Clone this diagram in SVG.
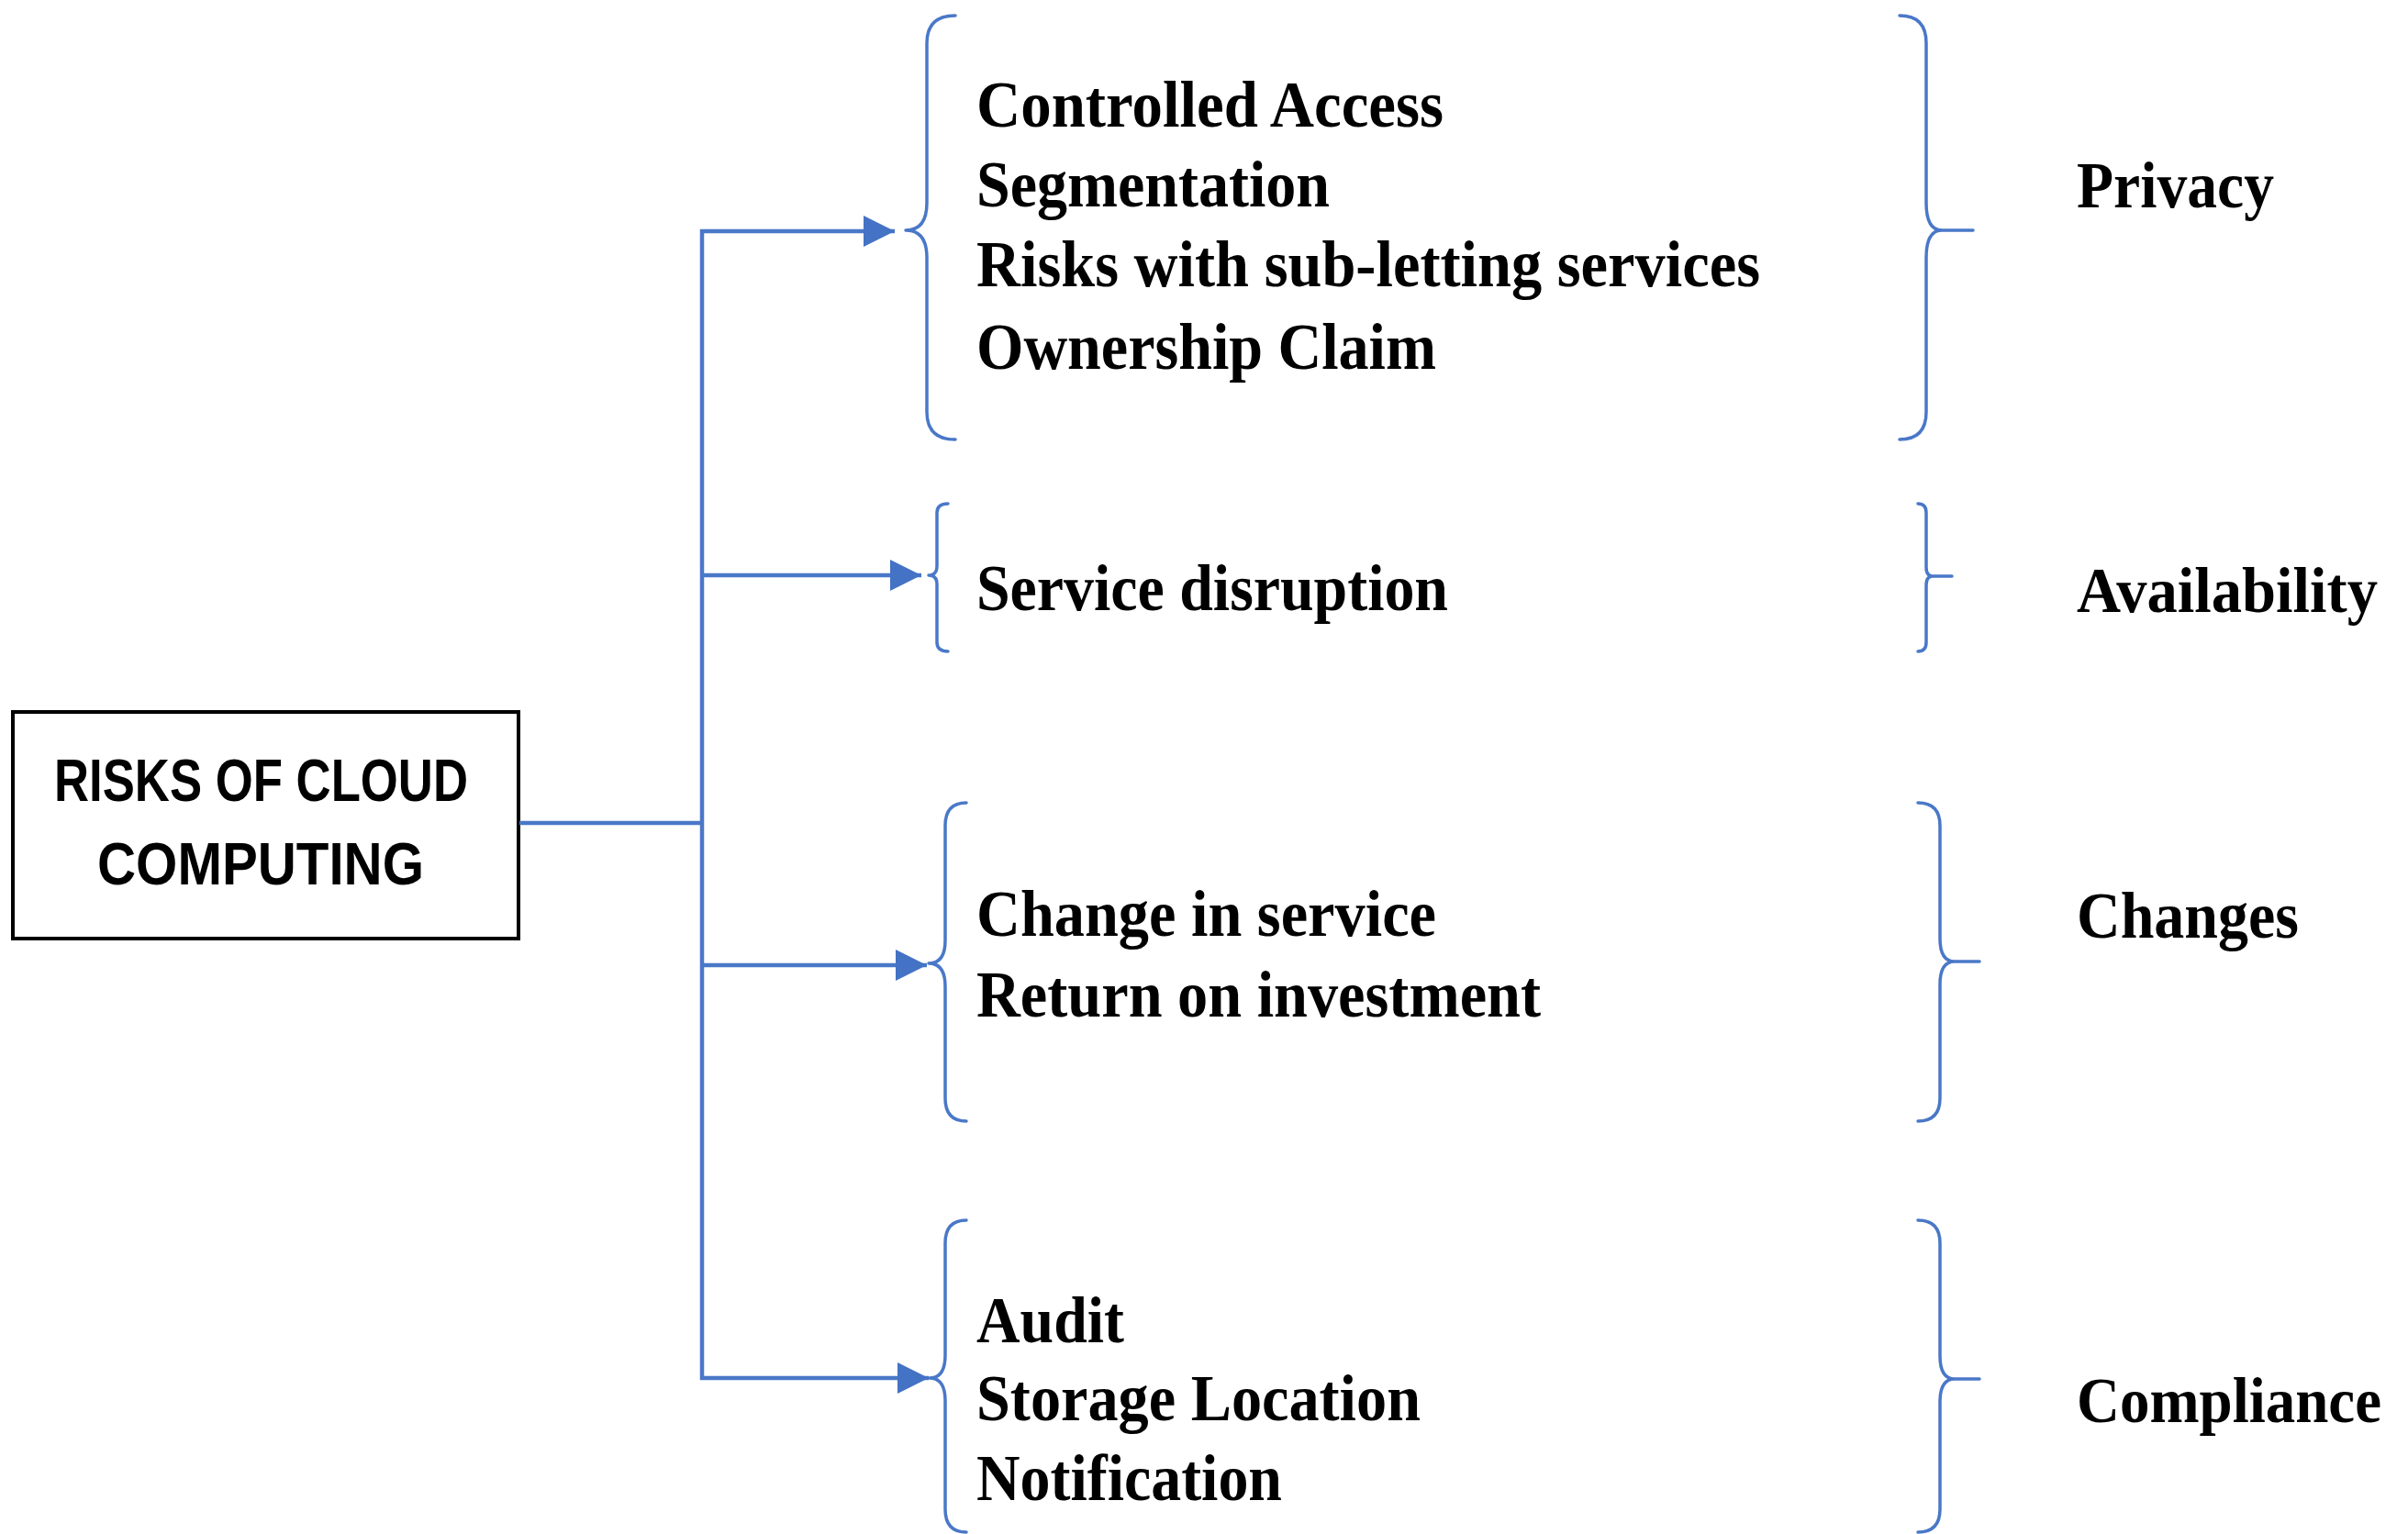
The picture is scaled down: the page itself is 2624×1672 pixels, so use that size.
<svg xmlns="http://www.w3.org/2000/svg" width="2624" height="1672" viewBox="0 0 2624 1672">
<style>
.item{font-family:"Liberation Serif","Times New Roman",serif;font-weight:bold;font-size:72px;fill:#000}
.edge{font-size:70px}
.box{fill:#fff;stroke:#000;stroke-width:4}
.boxt{font-family:"Liberation Sans",Arial,sans-serif;font-weight:bold;font-size:64px;fill:#000}
.brace{fill:none;stroke:#4a78c8;stroke-width:3.5;stroke-linejoin:round;stroke-linecap:round}
.conn{fill:none;stroke:#4a78c8;stroke-width:4.5}
</style>
<defs>
<marker id="arr" markerUnits="userSpaceOnUse" markerWidth="36" markerHeight="34" viewBox="0 0 10 10" refX="10" refY="5" orient="auto">
<path d="M0,0 L10,5 L0,10 z" fill="#4472c4"/>
</marker>
</defs>
<rect width="2624" height="1672" fill="#fff"/>
<g id="root">
<rect class="box" x="14" y="776" width="551" height="247"/>
<text class="boxt" x="59" y="873" textLength="451" lengthAdjust="spacingAndGlyphs">RISKS OF CLOUD</text>
<text class="boxt" x="106" y="964" textLength="356" lengthAdjust="spacingAndGlyphs">COMPUTING</text>
</g>
<g id="connectors">
<line class="conn" x1="566" y1="897" x2="767" y2="897" stroke-width="5"/>
<line class="conn" x1="765" y1="250" x2="765" y2="1504"/>
<line class="conn" x1="763" y1="252" x2="975" y2="252" marker-end="url(#arr)"/>
<line class="conn" x1="763" y1="627" x2="1004" y2="627" marker-end="url(#arr)"/>
<line class="conn" x1="763" y1="1052" x2="1010" y2="1052" marker-end="url(#arr)"/>
<line class="conn" x1="763" y1="1502" x2="1012" y2="1502" marker-end="url(#arr)"/>
</g>
<g id="group-privacy">
<path class="brace" d="M1041,17 Q1010,17 1010,47 L1010,221 Q1010,251 987,251 Q1010,251 1010,281 L1010,449 Q1010,479 1041,479"/>
<text class="item" x="1064" y="138" textLength="509" lengthAdjust="spacingAndGlyphs">Controlled Access</text>
<text class="item" x="1064" y="225" textLength="385" lengthAdjust="spacingAndGlyphs">Segmentation</text>
<text class="item" x="1064" y="312" textLength="854" lengthAdjust="spacingAndGlyphs">Risks with sub-letting services</text>
<text class="item" x="1064" y="402" textLength="501" lengthAdjust="spacingAndGlyphs">Ownership Claim</text>
<path class="brace" d="M2070,17 Q2099,17 2099,47 L2099,221 Q2099,251 2116,251 L2150,251 M2116,251 Q2099,251 2099,281 L2099,449 Q2099,479 2070,479"/>
<text class="item" x="2263" y="226" textLength="215" lengthAdjust="spacingAndGlyphs">Privacy</text>
</g>
<g id="group-availability">
<path class="brace" d="M1033,549 Q1021,549 1021,559 L1021,617 Q1021,627 1012,627 Q1021,627 1021,637 L1021,700 Q1021,710 1033,710"/>
<text class="item" x="1064" y="665" textLength="514" lengthAdjust="spacingAndGlyphs">Service disruption</text>
<path class="brace" d="M2090,549 Q2099,549 2099,559 L2099,618 Q2099,628 2106,628 L2127,628 M2106,628 Q2099,628 2099,638 L2099,700 Q2099,710 2090,710"/>
<text class="item edge" x="2263" y="667" textLength="328" lengthAdjust="spacingAndGlyphs">Availability</text>
</g>
<g id="group-changes">
<path class="brace" d="M1053,875 Q1030,875 1030,900 L1030,1025 Q1030,1050 1012,1050 Q1030,1050 1030,1075 L1030,1197 Q1030,1222 1053,1222"/>
<text class="item" x="1064" y="1020" textLength="501" lengthAdjust="spacingAndGlyphs">Change in service</text>
<text class="item" x="1064" y="1108" textLength="615" lengthAdjust="spacingAndGlyphs">Return on investment</text>
<path class="brace" d="M2090,875 Q2114,875 2114,900 L2114,1023 Q2114,1048 2130,1048 L2157,1048 M2130,1048 Q2114,1048 2114,1073 L2114,1197 Q2114,1222 2090,1222"/>
<text class="item" x="2263" y="1022" textLength="242" lengthAdjust="spacingAndGlyphs">Changes</text>
</g>
<g id="group-compliance">
<path class="brace" d="M1053,1330 Q1030,1330 1030,1355 L1030,1477 Q1030,1502 1013,1502 Q1030,1502 1030,1527 L1030,1645 Q1030,1670 1053,1670"/>
<text class="item" x="1064" y="1463" textLength="161" lengthAdjust="spacingAndGlyphs">Audit</text>
<text class="item" x="1064" y="1548" textLength="484" lengthAdjust="spacingAndGlyphs">Storage Location</text>
<text class="item" x="1064" y="1635" textLength="333" lengthAdjust="spacingAndGlyphs">Notification</text>
<path class="brace" d="M2090,1330 Q2114,1330 2114,1355 L2114,1478 Q2114,1503 2130,1503 L2157,1503 M2130,1503 Q2114,1503 2114,1528 L2114,1645 Q2114,1670 2090,1670"/>
<text class="item edge" x="2263" y="1550" textLength="332" lengthAdjust="spacingAndGlyphs">Compliance</text>
</g>
</svg>
